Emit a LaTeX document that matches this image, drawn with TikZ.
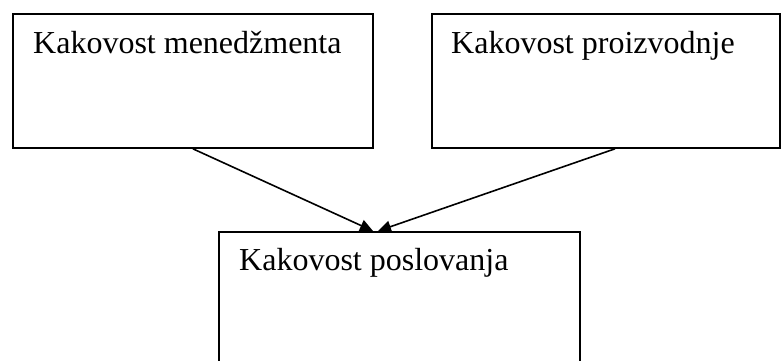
\documentclass[tikz,border=0pt]{standalone}
\usepackage{fontspec}
\setmainfont{Liberation Serif}
\usetikzlibrary{arrows.meta,calc}
\begin{document}
\begin{tikzpicture}[x=1pt,y=-1pt,
  box/.style={draw, line width=1.8pt, rectangle, inner sep=0pt, anchor=north west},
  lbl/.style={anchor=base west, inner sep=0pt, font=\fontsize{32}{38}\selectfont},
  conn/.style={line width=1.6pt, -{Triangle[length=13pt,width=12pt]}}]
\useasboundingbox (0,0) rectangle (781,360);
\clip (0,0) rectangle (781,360);
\node[box, minimum width=360pt, minimum height=134pt] (m) at (12,13) {};
\node[box, minimum width=348pt, minimum height=134pt] (p) at (431,13) {};
\node[box, minimum width=361pt, minimum height=160pt] (b) at (218,231) {};
\node[lbl] (mt) at (33,53) {Kakovost menedžmenta};
\node[lbl] (pt) at (451,53) {Kakovost proizvodnje};
\node[lbl] (bt) at (239,270) {Kakovost poslovanja};
\coordinate (e1) at ($(b.north west)+(155,0)$);
\coordinate (e2) at ($(b.north west)+(160,0)$);
\coordinate (s2) at ($(p.south west)+(184,0)$);
\draw[conn] (m.south) -- (e1);
\draw[conn] (s2) -- (e2);
\end{tikzpicture}
\end{document}
